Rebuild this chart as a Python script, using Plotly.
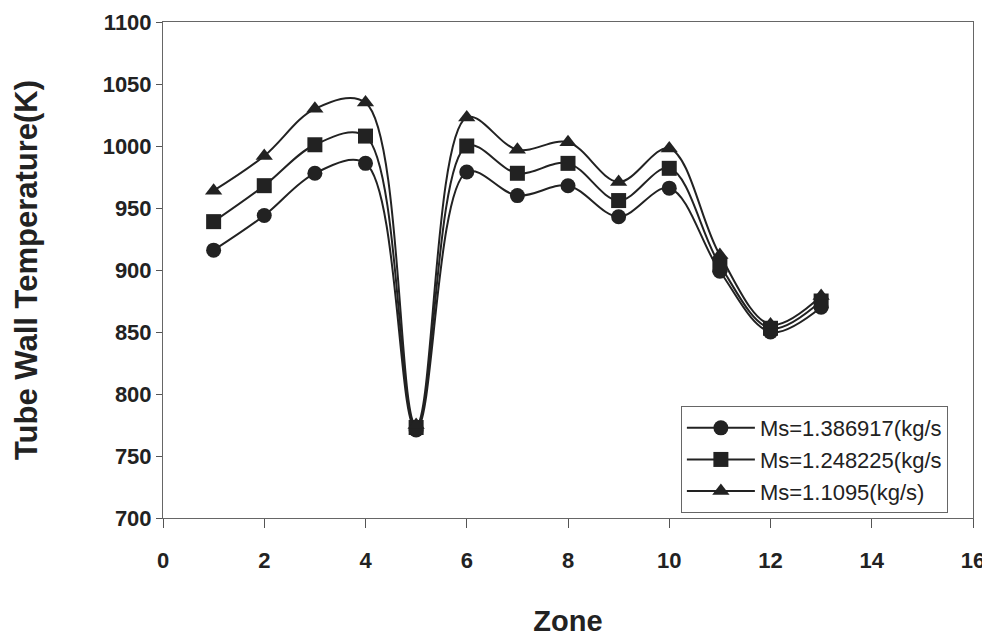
import plotly.graph_objects as go

zones = [1, 2, 3, 4, 5, 6, 7, 8, 9, 10, 11, 12, 13]
ms_1386917 = [916, 944, 978, 986, 771, 979, 960, 968, 943, 966, 899, 850, 870]
ms_1248225 = [939, 968, 1001, 1008, 773, 1000, 978, 986, 956, 982, 904, 853, 875]
ms_11095 = [964, 992, 1030, 1035, 775, 1023, 997, 1003, 971, 998, 912, 856, 879]

names = ["Ms=1.386917(kg/s", "Ms=1.248225(kg/s", "Ms=1.1095(kg/s)"]
symbols = ["circle", "square", "triangle-up"]
series = [ms_1386917, ms_1248225, ms_11095]

x_ticks = [0, 2, 4, 6, 8, 10, 12, 14, 16]
y_ticks = [700, 750, 800, 850, 900, 950, 1000, 1050, 1100]

FONT = "Liberation Sans, Arial, sans-serif"
INK = "#222222"

fig = go.Figure()
for name, sym, vals in zip(names, symbols, series):
    fig.add_trace(go.Scatter(
        x=zones, y=vals, name=name, mode="lines+markers",
        line=dict(color=INK, width=2, shape="spline", smoothing=1.0),
        marker=dict(symbol=sym, size=15, color=INK),
    ))

# the page body adds an 8px offset, so the figure is 8px smaller than the window
fig.update_layout(
    width=982, height=630,
    margin=dict(l=155, r=17, t=14, b=120),
    paper_bgcolor="white", plot_bgcolor="white",
    font=dict(family=FONT, color=INK),
    showlegend=True,
    legend=dict(
        x=0.969, y=0.01, xanchor="right", yanchor="bottom",
        bgcolor="white", bordercolor="#666", borderwidth=1,
        font=dict(size=22, color=INK, family=FONT),
        tracegroupgap=0, itemwidth=68,
    ),
    xaxis=dict(
        range=[0, 16], tickvals=x_ticks, ticks="outside", ticklen=9,
        tickcolor="#555", showline=True, linecolor="#666", linewidth=1,
        mirror=True, showgrid=False, zeroline=False, automargin=False,
        ticklabelstandoff=14,
        tickfont=dict(size=22, family=FONT, color=INK, weight="bold"),
        title=dict(text="Zone", font=dict(size=29, family=FONT, color=INK, weight="bold"),
                   standoff=38),
    ),
    yaxis=dict(
        range=[700, 1100], tickvals=y_ticks, ticks="outside", ticklen=6,
        tickcolor="#555", showline=True, linecolor="#666", linewidth=1,
        mirror=True, showgrid=False, zeroline=False, automargin=False,
        tickfont=dict(size=22, family=FONT, color=INK, weight="bold"),
        title=dict(text="Tube Wall Temperature(K)",
                   font=dict(size=31, family=FONT, color=INK, weight="bold"),
                   standoff=55),
    ),
)

fig.write_html("out.html")
